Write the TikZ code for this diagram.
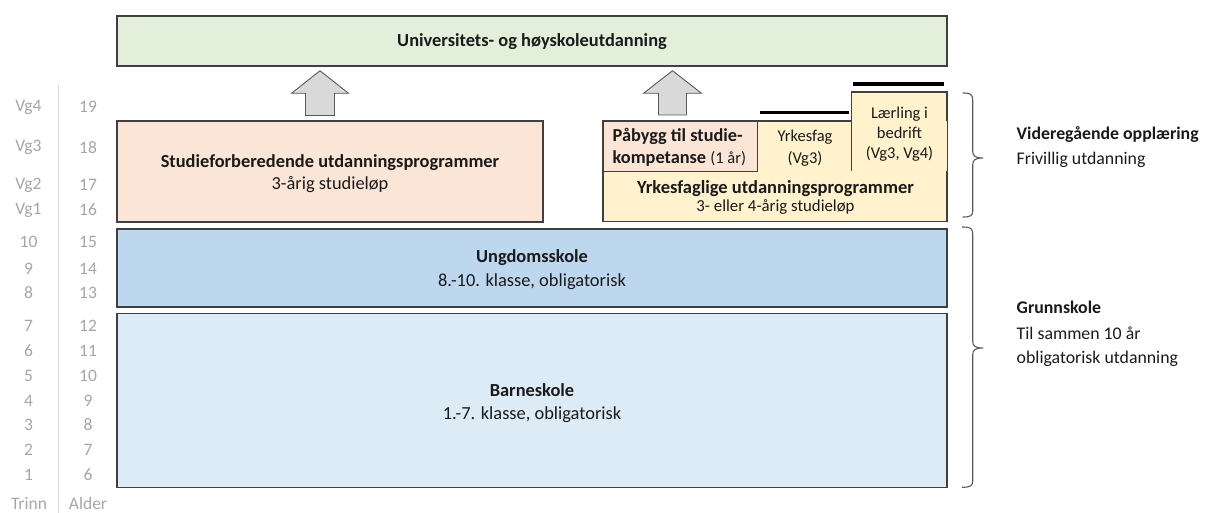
\documentclass[tikz,border=0pt]{standalone}
\usepackage{fontspec}
\setmainfont{Carlito}
\definecolor{gfill}{HTML}{E2EFDA}
\definecolor{pfill}{HTML}{FBE5D6}
\definecolor{yfill}{HTML}{FFF2CC}
\definecolor{bfill}{HTML}{BDD7EE}
\definecolor{lbfill}{HTML}{DDEBF7}
\definecolor{edge}{HTML}{404040}
\definecolor{axtext}{HTML}{A6A6A6}
\definecolor{axline}{HTML}{D9D9D9}
\definecolor{arrfill}{HTML}{D9D9D9}
\definecolor{arredge}{HTML}{595959}
\definecolor{bracecol}{HTML}{595959}
\definecolor{txt}{HTML}{1A1A1A}
\begin{document}
\begin{tikzpicture}[x=1pt,y=-1pt,
  boxstyle/.style={draw=edge,line width=1.1pt,inner sep=0pt,text=txt},
  boxtext/.style={inner sep=0pt,align=center,text=txt,font=\fontsize{18.4}{22.5}\selectfont},
  axlabel/.style={inner sep=0pt,text=axtext,font=\fontsize{17.5}{19}\selectfont},
  sidetext/.style={inner sep=0pt,anchor=west,text=txt,font=\fontsize{17.8}{19}\selectfont},
  blockarrow/.style={draw=arredge,fill=arrfill,line width=0.9pt,line join=miter},
  bracepath/.style={draw=bracecol,line width=1.1pt},
  capline/.style={draw=black,line width=3.5pt}
]
\useasboundingbox (0,0) rectangle (1206,513);

% ---------- boxes ----------
\node[boxstyle,fill=gfill,minimum width=830pt,minimum height=50pt] (uni) at (532,41) {};
\node[boxtext] (unit) at (532,42) {\textbf{Universitets- og høyskoleutdanning}};

\node[boxstyle,fill=pfill,minimum width=426pt,minimum height=101pt] (studie) at (330,171.5) {};
\node[boxtext] (studiet) at (330,173.5) {\textbf{Studieforberedende utdanningsprogrammer}\\3-årig studieløp};

\node[boxstyle,fill=yfill,minimum width=344pt,minimum height=100.5pt] (yrk) at (775,171.25) {};
\fill[yfill] (851.5,92) rectangle (947,171);
\draw[edge,line width=1.1pt] (851.5,171) -- (851.5,92) -- (947,92) -- (947,121);
\node[boxstyle,fill=pfill,minimum width=154.5pt,minimum height=50.5pt] (pabygg) at (680.25,146.25) {};

\node[inner sep=0pt,text=txt,font=\fontsize{18.5}{21}\selectfont] (yrk1) at (775.5,189) {\textbf{Yrkesfaglige utdanningsprogrammer}};
\node[inner sep=0pt,text=txt,font=\fontsize{16.8}{19}\selectfont] (yrk2) at (775.5,207) {3- eller 4-årig studieløp};

\node[inner sep=0pt,anchor=west,text=txt,font=\fontsize{18.3}{21}\selectfont] (pab1) at (612.5,136) {\textbf{Påbygg til studie-}};
\node[inner sep=0pt,anchor=west,text=txt,font=\fontsize{18.3}{21}\selectfont] (pab2) at (612.5,158.5) {\textbf{kompetanse} {\fontsize{16.5}{19}\selectfont (1 år)}};

\node[inner sep=0pt,align=center,text=txt,font=\fontsize{16.5}{21.6}\selectfont] (yfag) at (805,148) {Yrkesfag\\(Vg3)};
\node[inner sep=0pt,align=center,text=txt,font=\fontsize{16.5}{20}\selectfont] (laer) at (899.5,134) {Lærling i\\bedrift\\(Vg3, Vg4)};

\draw[capline] (760,112.3) -- (849,112.3);
\draw[capline] (853,84) -- (944,84);

\node[boxstyle,fill=bfill,minimum width=830pt,minimum height=78pt] (ungdom) at (532,268) {};
\node[boxtext] (ungdomt) at (532,270) {\textbf{Ungdomsskole}\\[1.5pt]8.-10. klasse, obligatorisk};

\node[boxstyle,fill=lbfill,minimum width=830pt,minimum height=174pt] (barne) at (532,400.3) {};
\node[boxtext] (barnet) at (532,403) {\textbf{Barneskole}\\1.-7. klasse, obligatorisk};

% ---------- block arrows ----------
\draw[blockarrow] (305.5,115.5) -- (334.5,115.5) -- (334.5,93.3) -- (348.5,93.3) -- (320,70.7) -- (291.5,93.3) -- (305.5,93.3) -- cycle;
\draw[blockarrow] (658.5,115) -- (686.5,115) -- (686.5,93.3) -- (701.5,93.3) -- (672.5,70.7) -- (643.5,93.3) -- (658.5,93.3) -- cycle;

% ---------- braces ----------
\draw[bracepath] (962.5,93) .. controls (970,93) and (972.7,94) .. (972.7,100) -- (972.7,151)
  .. controls (972.7,156) and (975,158) .. (983,158)
  .. controls (975,158) and (972.7,160) .. (972.7,165) -- (972.7,211)
  .. controls (972.7,216) and (970,217) .. (962.5,217);
\draw[bracepath] (962,227) .. controls (970,227) and (972.7,228) .. (972.7,234) -- (972.7,341)
  .. controls (972.7,346) and (975,348) .. (983,348)
  .. controls (975,348) and (972.7,350) .. (972.7,355) -- (972.7,481)
  .. controls (972.7,486) and (970,487.3) .. (962,487.3);

% ---------- side texts ----------
\node[sidetext] (vgo1) at (1016.5,135) {\textbf{Videregående opplæring}};
\node[sidetext] (vgo2) at (1016.5,160) {Frivillig utdanning};
\node[sidetext] (gs1) at (1016.5,307) {\textbf{Grunnskole}};
\node[sidetext] (gs2) at (1016.5,333) {Til sammen 10 år};
\node[sidetext] (gs3) at (1016.5,359) {obligatorisk utdanning};

% ---------- axis ----------
\draw[axline,line width=1.5pt] (58.3,85) -- (58.3,513);
\foreach \t/\a/\y [count=\i] in {Vg4/19/107, Vg3/18/147.3, Vg2/17/185, Vg1/16/210,
   10/15/241.7, 9/14/269, 8/13/292.7, 7/12/326, 6/11/350.7, 5/10/376,
   4/9/400.7, 3/8/425, 2/7/450, 1/6/475} {
  \node[axlabel] (trinn\i) at (28.5,\y) {\t};
  \node[axlabel] (alder\i) at (88,\y) {\a};
}
\node[axlabel] (trinnh) at (29,503.5) {Trinn};
\node[axlabel] (alderh) at (88,503.5) {Alder};
\end{tikzpicture}
\end{document}
